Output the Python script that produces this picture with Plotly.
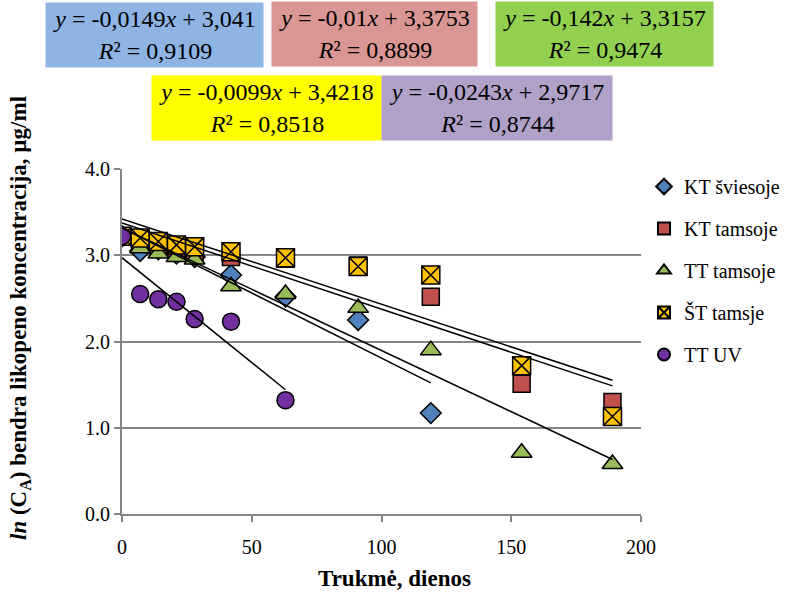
import numpy as np
import plotly.graph_objects as go

# ---- data ----
days_full = [0, 7, 14, 21, 28, 42, 63, 91, 119, 154, 189]
days_kt_light = [0, 7, 14, 21, 28, 42, 63, 91, 119]
days_uv = [0, 7, 14, 21, 28, 42, 63]

kt_sviesoje = [3.22, 3.05, 3.07, 3.02, 2.98, 2.77, 2.52, 2.25, 1.17]
kt_tamsoje = [3.22, 3.17, 3.12, 3.07, 3.03, 2.98, 2.96, 2.88, 2.52, 1.51, 1.30]
tt_tamsoje = [3.22, 3.08, 3.02, 2.98, 2.95, 2.64, 2.55, 2.39, 1.90, 0.71, 0.58]
st_tamsje = [3.22, 3.20, 3.16, 3.12, 3.10, 3.04, 2.97, 2.87, 2.77, 1.72, 1.13]
tt_uv = [3.22, 2.55, 2.49, 2.46, 2.26, 2.23, 1.32]

series_names = ["KT šviesoje", "KT tamsoje", "TT tamsoje", "ŠT tamsje", "TT UV"]
series_x = [days_kt_light, days_full, days_full, days_full, days_uv]
series_y = [kt_sviesoje, kt_tamsoje, tt_tamsoje, st_tamsje, tt_uv]

# linear trend lines (slope, intercept) as drawn in the chart
trend_slope = [-0.0151, -0.0100, -0.0142, -0.0099, -0.0243]
trend_intercept = [3.317, 3.3753, 3.3157, 3.4218, 2.9717]

eq_texts = [
    "<i>y</i> = -0,0149<i>x</i> + 3,041<br><i>R</i>² = 0,9109",
    "<i>y</i> = -0,01<i>x</i> + 3,3753<br><i>R</i>² = 0,8899",
    "<i>y</i> = -0,142<i>x</i> + 3,3157<br><i>R</i>² = 0,9474",
    "<i>y</i> = -0,0099<i>x</i> + 3,4218<br><i>R</i>² = 0,8518",
    "<i>y</i> = -0,0243<i>x</i> + 2,9717<br><i>R</i>² = 0,8744",
]

x_ticks = [0, 50, 100, 150, 200]
y_ticks = [0, 1, 2, 3, 4]

# ---- styles ----
W, H = 792, 596
ML, MR, MT, MB = 122, 151, 169, 82
PW, PH = W - ML - MR, H - MT - MB
FONT = "Liberation Serif"

symbols = ["diamond", "square", "triangle-up", "square-x", "circle"]
colors = ["#4F81BD", "#C0504D", "#9BBB59", "#FFC000", "#7030A0"]
sizes = [16, 17, 18, 18, 17]
box_colors = ["#8DB4E2", "#DA9694", "#92D050", "#FFFF00", "#B1A0C7"]
box_px = [(46, 3, 263, 67), (272, 2, 477, 66), (496, 2, 713, 66),
          (152, 76, 381, 140), (382, 76, 612, 140)]


def px2paper(px, py):
    return (px - ML) / PW, (H - MB - py) / PH


fig = go.Figure()

for i, name in enumerate(series_names):
    fig.add_trace(go.Scatter(
        x=series_x[i], y=series_y[i], mode="markers", name=name,
        legendgroup=name,
        marker=dict(symbol=symbols[i], color=colors[i], size=sizes[i],
                    line=dict(color="black", width=1.5)),
    ))

for i, name in enumerate(series_names):
    xs = np.array([0, series_x[i][-1]], dtype=float)
    ys = trend_slope[i] * xs + trend_intercept[i]
    fig.add_trace(go.Scatter(
        x=xs, y=ys, mode="lines", showlegend=False, hoverinfo="skip",
        line=dict(color="black", width=1.5),
    ))

annotations = []
for i, (x0, y0, x1, y1) in enumerate(box_px):
    cx, cy = px2paper((x0 + x1) / 2, (y0 + y1) / 2)
    annotations.append(dict(
        x=cx, y=cy, xref="paper", yref="paper", xanchor="center", yanchor="middle",
        text=eq_texts[i], showarrow=False, align="center", valign="middle",
        width=x1 - x0, height=y1 - y0, bgcolor=box_colors[i], borderpad=0,
        font=dict(family=FONT, size=24, color="black"),
    ))

# axis titles
tx, ty = px2paper(394, 578)
annotations.append(dict(x=tx, y=ty, xref="paper", yref="paper", showarrow=False,
                        text="<b>Trukmė, dienos</b>", xanchor="center", yanchor="middle",
                        font=dict(family=FONT, size=23, color="black")))
tx, ty = px2paper(20, 318)
annotations.append(dict(x=tx, y=ty, xref="paper", yref="paper", showarrow=False,
                        text="<b><i>ln</i> (C<sub>A</sub>) bendra likopeno koncentracija, µg/ml</b>",
                        textangle=-90, xanchor="center", yanchor="middle",
                        font=dict(family=FONT, size=23, color="black")))

lx, ly = px2paper(644, 167)
fig.update_layout(
    width=W, height=H,
    margin=dict(l=ML, r=MR, t=MT, b=MB, autoexpand=False),
    paper_bgcolor="white", plot_bgcolor="white",
    font=dict(family=FONT, size=20, color="black"),
    showlegend=True,
    legend=dict(x=lx, y=ly, xanchor="left", yanchor="top",
                font=dict(family=FONT, size=20, color="black"),
                itemsizing="constant", tracegroupgap=13, itemwidth=30,
                bgcolor="rgba(0,0,0,0)", borderwidth=0),
    annotations=annotations,
)
fig.update_xaxes(range=[0, 200], tickvals=x_ticks, showgrid=False, automargin=False,
                 showline=True, linecolor="#868686", linewidth=2,
                 ticks="outside", ticklen=6, tickcolor="#868686", tickwidth=2,
                 ticklabelstandoff=8,
                 tickfont=dict(family=FONT, size=20), zeroline=False)
fig.update_yaxes(range=[0, 4], tickvals=y_ticks, tickformat=".1f", automargin=False,
                 showgrid=True, gridcolor="#868686", gridwidth=2,
                 showline=True, linecolor="#868686", linewidth=2,
                 ticks="outside", ticklen=6, tickcolor="#868686", tickwidth=2,
                 tickfont=dict(family=FONT, size=20), zeroline=False)

fig.write_html("out.html", config={"displayModeBar": False},
               post_script="document.body.style.margin='0';document.body.style.padding='0';")
